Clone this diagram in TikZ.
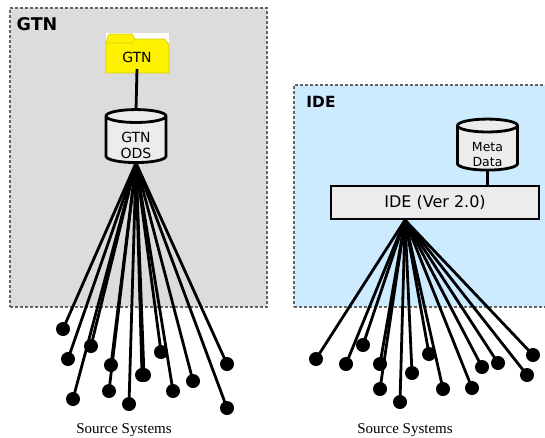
\documentclass[tikz,border=0pt]{standalone}
\usepackage{fontspec}
\setmainfont{DejaVu Sans}
\newfontfamily\srcfont{Liberation Serif}
\usetikzlibrary{shapes,positioning,calc}
\definecolor{gtnGrey}{RGB}{220,220,220}
\definecolor{ideBlue}{RGB}{204,235,255}
\definecolor{boxGrey}{RGB}{236,236,236}
\definecolor{dashGrey}{RGB}{100,100,100}
\definecolor{folderLine}{RGB}{205,205,30}

\begin{document}
\begin{tikzpicture}
  [x=1pt,y=-1pt,
   areaN/.style={draw=dashGrey,dash pattern=on 3pt off 2pt,line width=1.2pt,inner sep=0pt},
   titleN/.style={inner sep=0pt,font=\bfseries},
   cylN/.style={draw,cylinder,shape border rotate=90,aspect=0.42,line width=2.8pt,
                cylinder uses custom fill,cylinder body fill=boxGrey,cylinder end fill=boxGrey,
                minimum width=60pt,inner sep=0pt,align=center,font=\fontsize{14}{16}\selectfont},
   txtN/.style={inner sep=0pt,align=center},
   srcN/.style={circle,fill=black,minimum size=14pt,inner sep=0pt},
   capN/.style={inner sep=0pt,font=\srcfont\fontsize{15}{15}\selectfont},
   link/.style={line width=2.8pt},
  ]
 \useasboundingbox (0,0) rectangle (545,437);

 % areas
 \node[areaN,fill=gtnGrey,minimum width=257pt,minimum height=299pt] (gtnArea) at (138.5,157.5) {};
 \node[areaN,fill=ideBlue,minimum width=256pt,minimum height=222pt] (ideArea) at (422,196) {};
 \node[titleN,font=\bfseries\fontsize{17.5}{17.5}\selectfont] (gtnTitle) at (37,24) {GTN};
 \node[titleN,font=\bfseries\fontsize{15.4}{15.4}\selectfont] (ideTitle) at (321,102) {IDE};

 % folder
 \fill[white] (106,33) rectangle (169,43);
 \draw[folderLine,fill=yellow,line width=0.6pt]
   (106,73) -- (106,42) -- (109,34) -- (132,34) -- (135,39) -- (165,39) -- (169,45) -- (169,73) -- cycle;
 \draw[folderLine,line width=0.6pt] (106,43) -- (133,43) -- (135,39);
 \node[txtN,font=\fontsize{14}{14}\selectfont] (folder) at (137,57) {GTN};
 \coordinate (folderEnd) at (137,69);

 % stores
 \node[cylN,minimum height=53pt] (ods) at (136,140) {\phantom{GTN}\\\phantom{ODS}};
 \node[txtN,font=\fontsize{14}{16}\selectfont] (odsText) at (136,145) {GTN\\ODS};
 \node[cylN,minimum height=51pt] (meta) at (487.5,148.5) {\phantom{GTN}\\\phantom{ODS}};
 \node[txtN,font=\fontsize{12.5}{15}\selectfont] (metaText) at (487.5,155) {Meta\\Data};
 \node[draw,fill=boxGrey,line width=2.8pt,minimum width=208pt,minimum height=33pt,inner sep=0pt,
       font=\fontsize{16}{16}\selectfont] (ide) at (435,202.5) {IDE (Ver 2.0)};
 \coordinate (odsFan) at (136,163);
 \coordinate (ideFan) at (405,220);
 \coordinate (odsTop) at (136,110);

 \draw[link] (folderEnd) -- (odsTop);
 \draw[link] (meta.south) -- (meta.south |- ide.north);

 % source systems
 \foreach \i/\x/\y in {1/63/329,2/68/359,3/91/346,4/111/365,5/109/391,6/73/399,7/129/404,
                       8/142/375,9/161/352,10/173/391,11/193/381,12/227/364,13/227/408,14/144/375}
 {
   \node[srcN] (gs\i) at (\x,\y) {};
   \draw[link] (odsFan) -- (gs\i.center);
 }
 \foreach \i/\x/\y in {1/316/359,2/346/364,3/363/345,4/380/364,5/380/389,6/400/402,7/412/373,
                       8/429/354,9/443/389,10/472/388,11/482/367,12/498/363,13/527/375,14/533/355}
 {
   \node[srcN] (is\i) at (\x,\y) {};
   \draw[link] (ideFan) -- (is\i.center);
 }

 \node[capN] (gtnCap) at (124,430) {Source Systems};
 \node[capN] (ideCap) at (405,430) {Source Systems};
\end{tikzpicture}
\end{document}
